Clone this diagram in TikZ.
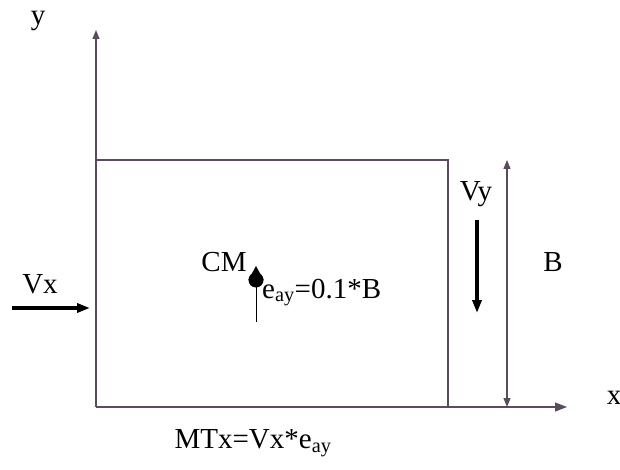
\documentclass[tikz,border=0pt]{standalone}
\usepackage{fontspec}
\setmainfont{Liberation Serif}
\usetikzlibrary{arrows.meta}
\definecolor{axis}{RGB}{90,75,95}
\begin{document}
\begin{tikzpicture}[x=1pt,y=-1pt,
  ln/.style={draw=axis,line width=1.2pt},
  lbl/.style={font=\fontsize{29}{29}\selectfont,inner sep=0pt},
  force/.style={draw=black,line width=4.5pt,-{Triangle[length=13pt,width=9pt]}}]
\useasboundingbox (0,0) rectangle (620,470);
\coordinate (O) at (96,407);
\coordinate (ytop) at (96,30);
\coordinate (xend) at (567,407);
\draw[ln,-{Triangle[length=9pt,width=7pt]}] (O) -- (ytop);
\draw[ln,-{Triangle[length=12pt,width=9pt]}] (O) -- (xend);
\coordinate (rtl) at (96,160);
\coordinate (rtr) at (448,160);
\coordinate (rbr) at (448,407);
\draw[ln] (rtl) -- (rtr) -- (rbr);
\coordinate (Btop) at (507,160);
\coordinate (Bbot) at (507,407);
\draw[ln,{Triangle[length=9pt,width=7pt]}-{Triangle[length=9pt,width=7pt]}] (Btop) -- (Bbot);
\node[lbl] (ylab) at (38,21) {y};
\node[lbl] (xlab) at (614,398) {x};
\node[lbl] (B) at (553,262) {B};
\node[lbl] (Vy) at (476,194) {Vy};
\coordinate (vys) at (477,220);
\coordinate (vye) at (477,313);
\draw[force] (vys) -- (vye);
\node[lbl] (Vx) at (40,284) {Vx};
\coordinate (vxs) at (12,308);
\coordinate (vxe) at (90,308);
\draw[force] (vxs) -- (vxe);
\node[lbl] (CM) at (224,262) {CM};
\node[circle,fill=black,inner sep=0pt,minimum size=15pt] (dot) at (256,280) {};
\fill[black] (dot.west) -- (256,266) -- (dot.east) -- cycle;
\coordinate (ebot) at (256,322);
\draw[black,line width=0.8pt] (dot.center) -- (ebot);
\node[lbl,anchor=base west] (ecc) at (262,298) {e\textsubscript{ay}=0.1*B};
\node[lbl] (MT) at (253,443) {MTx=Vx*e\textsubscript{ay}};
\end{tikzpicture}
\end{document}
